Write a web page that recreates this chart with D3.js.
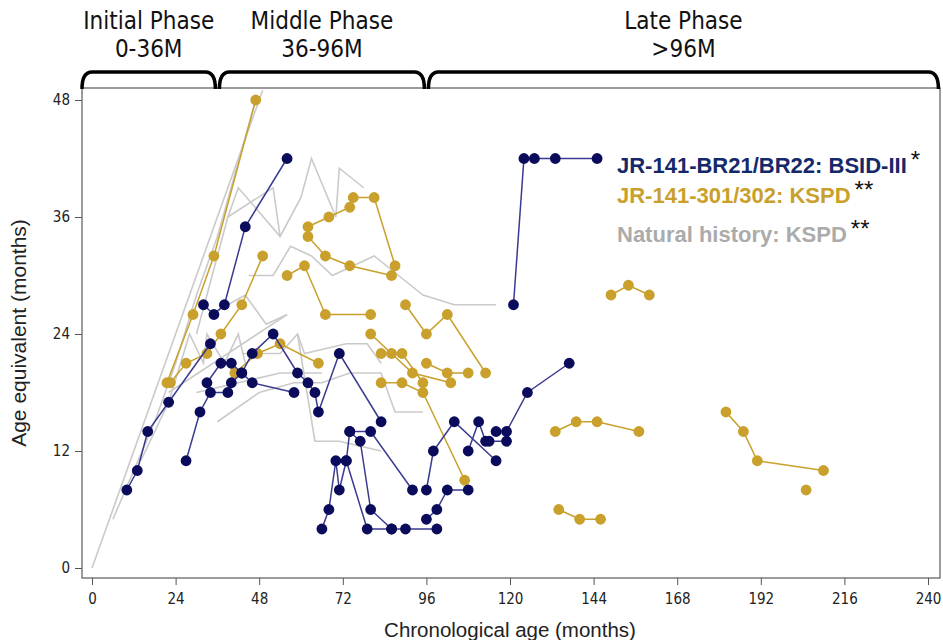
<!DOCTYPE html>
<html>
<head>
<meta charset="utf-8">
<script src="https://cdn.jsdelivr.net/npm/d3@7/dist/d3.min.js"></script>
<style>
  body { margin: 0; background: #fff; }
  svg { display: block; }
  .tick text { font-family: "Liberation Sans Narrow", "DejaVu Sans Condensed", Arial, sans-serif; font-size: 15px; fill: #222; }
  .tick line { stroke: #555; }
</style>
</head>
<body>
<svg id="chart" width="943" height="640"></svg>
<script>
// axis ticks
var xTicks = [0, 24, 48, 72, 96, 120, 144, 168, 192, 216, 240];
var yTicks = [0, 12, 24, 36, 48];

// phase brackets on top
var phaseNames = ['Initial Phase', 'Middle Phase', 'Late Phase'];
var phaseRanges = ['0-36M', '36-96M', '>96M'];
var phaseBounds = [[-3, 36], [36, 96], [96, 243]];

// legend
var legendLabels = ['JR-141-BR21/BR22: BSID-III', 'JR-141-301/302: KSPD', 'Natural history: KSPD'];
var legendMarks = ['*', '**', '**'];

// JR-141-BR21/BR22 (BSID-III) patients: [chronological age, age equivalent]
var navySeries = [
  [[10, 8], [13, 10], [16, 14], [22, 17], [34, 23]],
  [[32, 27], [35, 26], [38, 27], [44, 35], [56, 42]],
  [[27, 11], [31, 16], [34, 18], [39, 18], [40, 19], [43, 20], [46, 22], [52, 24], [59, 20], [62, 19], [64, 18], [65, 16], [71, 22], [83, 15]],
  [[33, 19], [37, 21], [40, 21], [43, 20], [46, 19], [58, 18]],
  [[66, 4], [68, 6], [70, 11], [71, 8], [73, 11], [74, 14], [80, 14], [92, 8]],
  [[74, 14], [77, 13], [80, 6], [86, 4], [90, 4], [99, 4]],
  [[73, 11], [79, 4], [86, 4]],
  [[96, 8], [98, 12], [104, 15], [116, 11]],
  [[108, 12], [111, 15], [113, 13], [114, 13], [119, 13]],
  [[116, 14], [119, 14], [125, 18], [137, 21]],
  [[96, 5], [99, 6], [102, 8], [108, 8]],
  [[121, 27], [124, 42], [127, 42], [133, 42], [145, 42]]
];

// JR-141-301/302 (KSPD) patients
var goldSeries = [
  [[21.5, 19], [29, 26], [35, 32], [47, 48]],
  [[22.5, 19], [27, 21], [33, 22], [37, 24], [43, 27], [49, 32]],
  [[41, 20], [47.5, 22], [54, 23], [65, 21]],
  [[56, 30], [61, 31], [67, 26], [80, 26]],
  [[62, 35], [68, 36], [74, 37], [75, 38], [81, 38], [87, 31]],
  [[62, 34], [67, 32], [74, 31], [86, 30]],
  [[90, 27], [96, 24], [102, 26], [113, 20]],
  [[80, 24], [92, 20], [103, 19]],
  [[83, 22], [86, 22], [89, 22], [95, 19]],
  [[83, 19], [89, 19], [95, 18], [107, 9]],
  [[96, 21], [102, 20], [108, 20]],
  [[149, 28], [154, 29], [160, 28]],
  [[133, 14], [139, 15], [145, 15], [157, 14]],
  [[134, 6], [140, 5], [146, 5]],
  [[182, 16], [187, 14], [191, 11], [210, 10]],
  [[205, 8]]
];

// natural history (KSPD) patients
var graySeries = [
  [[0, 0], [49, 49]],
  [[6, 5], [12, 10], [18, 15], [24, 21], [30, 28], [36, 34], [47, 48]],
  [[14, 11], [22, 17], [28, 24], [32, 21], [33, 24], [38, 21], [42, 24], [44, 21]],
  [[22, 18], [56, 26]],
  [[30, 18], [54, 20], [66, 20]],
  [[36, 15], [48, 18], [58, 19], [66, 19], [74, 20], [83, 20], [87, 16], [95, 16]],
  [[30, 24], [39, 36], [42, 39], [54, 34], [60, 38], [63, 42], [70, 36], [71, 41], [78, 39]],
  [[39, 36], [52, 39], [54, 34]],
  [[45, 30], [52, 30], [57, 33], [63, 32], [69, 30], [81, 32], [88, 30], [95, 28], [104, 27], [116, 27]],
  [[43, 22], [54, 22], [59, 24], [61, 22], [73, 23], [79, 23], [83, 21]],
  [[59, 24], [64, 13], [71, 13], [83, 12]],
  [[34, 26], [44, 28], [50, 25], [56, 26]]
];

var navyDot = '#0b0b5c', navyLine = '#3a3a90', navyText = '#15296a';
var gold = '#c9a02b', grayLine = '#cacaca', grayText = '#ababab';
var narrow = '"Liberation Sans Narrow", "DejaVu Sans Condensed", Arial, sans-serif';
var sans = '"Liberation Sans", Arial, sans-serif';

var svg = d3.select('#chart');
var frame = { left: 82, right: 940, top: 88, bottom: 578 };
var x = d3.scaleLinear().domain([0, 240]).range([92, 928]);
var y = d3.scaleLinear().domain([0, 48]).range([568, 100]);
var line = d3.line().x(function (d) { return x(d[0]); }).y(function (d) { return y(d[1]); });

// axes
var gx = svg.append('g')
  .attr('transform', 'translate(0,' + frame.bottom + ')')
  .call(d3.axisBottom(x).tickValues(xTicks).tickSize(7).tickPadding(8));
gx.select('.domain').remove();

var gy = svg.append('g')
  .attr('transform', 'translate(' + frame.left + ',0)')
  .call(d3.axisLeft(y).tickValues(yTicks).tickSize(7).tickPadding(5));
gy.select('.domain').remove();

svg.append('rect')
  .attr('x', frame.left).attr('y', frame.top)
  .attr('width', frame.right - frame.left).attr('height', frame.bottom - frame.top)
  .attr('fill', 'none').attr('stroke', '#666').attr('stroke-width', 1.3);

// series
svg.append('g').selectAll('path').data(graySeries).join('path')
  .attr('d', line).attr('fill', 'none').attr('stroke', grayLine).attr('stroke-width', 1.6);

function drawGroup(data, lineColor, dotColor) {
  var g = svg.append('g');
  g.selectAll('path').data(data).join('path')
    .attr('d', line).attr('fill', 'none').attr('stroke', lineColor).attr('stroke-width', 1.5);
  g.selectAll('circle').data(data.flat()).join('circle')
    .attr('cx', function (d) { return x(d[0]); })
    .attr('cy', function (d) { return y(d[1]); })
    .attr('r', 5.4).attr('fill', dotColor);
}
drawGroup(goldSeries, gold, gold);
drawGroup(navySeries, navyLine, navyDot);

// axis titles
svg.append('text').attr('x', 510).attr('y', 637).attr('text-anchor', 'middle')
  .style('font-family', sans).style('font-size', '20.5px').attr('fill', '#222')
  .text('Chronological age (months)');
svg.append('text').attr('transform', 'translate(26,333) rotate(-90)').attr('text-anchor', 'middle')
  .style('font-family', sans).style('font-size', '21px').attr('fill', '#222')
  .text('Age equivalent (months)');

// phase brackets
phaseBounds.forEach(function (b, i) {
  var x0 = Math.max(x(b[0]), frame.left) + (i > 0 ? 2 : 0);
  var x1 = Math.min(x(b[1]), frame.right) - (i < 2 ? 2 : 0);
  var top = 72, bot = 89, r = 10;
  svg.append('path')
    .attr('d', 'M' + x0 + ',' + bot + ' Q' + x0 + ',' + top + ' ' + (x0 + r) + ',' + top +
      ' L' + (x1 - r) + ',' + top + ' Q' + x1 + ',' + top + ' ' + x1 + ',' + bot)
    .attr('fill', 'none').attr('stroke', '#000').attr('stroke-width', 3.5);
  var cx = (x0 + x1) / 2;
  svg.append('text').attr('x', cx).attr('y', 29).attr('text-anchor', 'middle')
    .style('font-family', narrow).style('font-size', '24px').attr('fill', '#111')
    .text(phaseNames[i]);
  svg.append('text').attr('x', cx).attr('y', 57).attr('text-anchor', 'middle')
    .style('font-family', narrow).style('font-size', '24px').attr('fill', '#111')
    .text(phaseRanges[i]);
});

// legend
var legendColors = [navyText, gold, grayText];
var legendY = [173, 203, 242];
legendLabels.forEach(function (label, i) {
  var t = svg.append('text').attr('x', 617).attr('y', legendY[i])
    .style('font-family', sans).style('font-size', '22px').style('font-weight', 'bold')
    .attr('fill', legendColors[i]).text(label);
  var w = t.node().getComputedTextLength();
  svg.append('text').attr('x', 617 + w + 4).attr('y', legendY[i] - 5)
    .style('font-family', sans).style('font-size', '24px').attr('fill', '#111')
    .text(legendMarks[i]);
});
</script>
</body>
</html>
